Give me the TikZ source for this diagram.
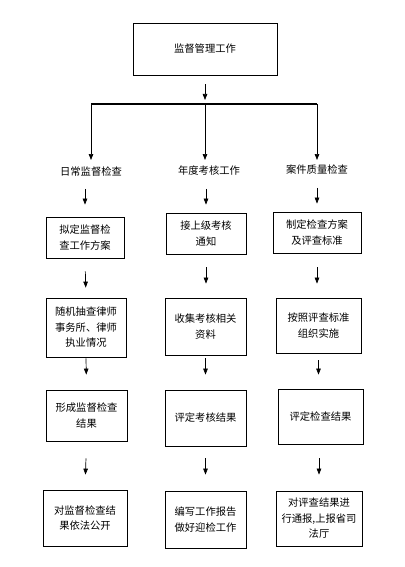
\documentclass[tikz,border=0pt]{standalone}
\usepackage{fontspec}
\newfontfamily\cjk{Noto Sans CJK SC}
\usetikzlibrary{arrows.meta,positioning}

\begin{document}
\begin{tikzpicture}[
  x=1pt, y=-1pt,
  box/.style={rectangle, draw, line width=0.75pt, inner sep=0pt, align=center,
              font=\cjk\fontsize{10.3}{15.5}\selectfont},
  head/.style={inner sep=0pt, font=\cjk\fontsize{10.3}{15.5}\selectfont},
  arrow/.style={-{Triangle[width=4.5pt,length=6pt]}, line width=0.7pt}
]
\useasboundingbox (0,0) rectangle (404,567);

% 顶层
\node[box, minimum width=144pt, minimum height=52pt] (top) at (205,49) {监督管理工作};

% 分支横线
\coordinate (barL) at (91,104);
\coordinate (barM) at (205,104);
\coordinate (barR) at (317,104);
\draw[line width=2pt] (barL) -- (barR);
\draw[arrow, shorten <=9pt, shorten >=4pt] (top.south) -- (barM);

% 三个分类
\node[head] (head1) at (91,172) {日常监督检查};
\node[head] (head2) at (209,171) {年度考核工作};
\node[head] (head3) at (317,170) {案件质量检查};

\draw[arrow, shorten >=7pt] (barL) -- (barL |- head1.north);
\draw[arrow, shorten >=6pt] (barM) -- (barM |- head2.north);
\draw[arrow, shorten >=5pt] (barR) -- (barR |- head3.north);

% 第一列：日常监督检查
\node[box, minimum width=78pt, minimum height=41pt] (c1b1) at (85,237.5) {拟定监督检\\查工作方案};
\node[box, minimum width=80pt, minimum height=59pt] (c1b2) at (86,327.5) {随机抽查律师\\事务所、律师\\执业情况};
\node[box, minimum width=81pt, minimum height=51pt] (c1b3) at (86.5,415.5) {形成监督检查\\结果};
\node[box, minimum width=84pt, minimum height=56pt] (c1b4) at (85,518) {对监督检查结\\果依法公开};

% 第二列：年度考核工作
\node[box, minimum width=80pt, minimum height=41pt] (c2b1) at (206,233.5) {接上级考核\\通知};
\node[box, minimum width=81pt, minimum height=57pt] (c2b2) at (205.5,326.5) {收集考核相关\\资料};
\node[box, minimum width=81pt, minimum height=56pt] (c2b3) at (205.5,418) {评定考核结果};
\node[box, minimum width=81pt, minimum height=57pt] (c2b4) at (205.5,519.5) {编写工作报告\\做好迎检工作};

% 第三列：案件质量检查
\node[box, minimum width=88pt, minimum height=41pt] (c3b1) at (317,232.5) {制定检查方案\\及评查标准};
\node[box, minimum width=85pt, minimum height=55pt] (c3b2) at (318.5,325.5) {按照评查标准\\组织实施};
\node[box, minimum width=85pt, minimum height=55pt] (c3b3) at (320.5,416.5) {评定检查结果};
\node[box, minimum width=86pt, minimum height=55pt] (c3b4) at (319,518.5) {对评查结果进\\行通报,上报省司\\法厅};

% 第一列箭头
\draw[arrow, shorten <=12pt, shorten >=12pt] (head1.south -| c1b1) -- (c1b1.north);
\draw[arrow, shorten <=13pt, shorten >=10pt] (c1b1.south) -- (c1b2.north);
\draw[arrow, shorten <=1pt, shorten >=15pt] (c1b2.south) -- (c1b3.north);
\draw[arrow, shorten <=17pt, shorten >=15pt] (c1b3.south) -- (c1b4.north);

% 第二列箭头
\draw[arrow, shorten <=13pt, shorten >=8pt] (head2.south -| c2b1) -- (c2b1.north);
\draw[arrow, shorten <=13pt, shorten >=14pt] (c2b1.south) -- (c2b1.south |- c2b2.north);
\draw[arrow, shorten <=3pt, shorten >=15pt] (c2b2.south) -- (c2b3.north);
\draw[arrow, shorten <=12pt, shorten >=16pt] (c2b3.south) -- (c2b4.north);

% 第三列箭头
\draw[arrow, shorten <=13pt, shorten >=8pt] (head3.south) -- (head3.south |- c3b1.north);
\draw[arrow, shorten <=14pt, shorten >=14pt] (c3b1.south) -- (c3b1.south |- c3b2.north);
\draw[arrow, shorten <=7pt, shorten >=14pt] (c3b2.south) -- (c3b2.south |- c3b3.north);
\draw[arrow, shorten <=14pt, shorten >=16pt] (c3b3.south -| c3b4) -- (c3b4.north);

\end{tikzpicture}
\end{document}
